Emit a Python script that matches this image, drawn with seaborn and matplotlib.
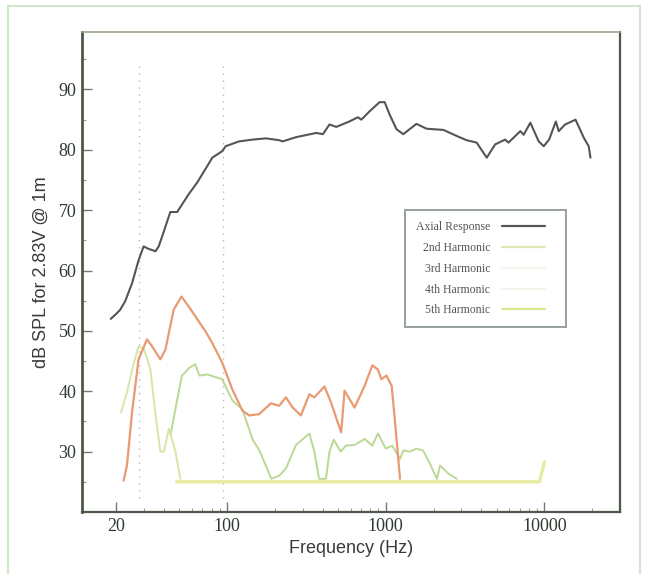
import numpy as np
import pandas as pd
import matplotlib
matplotlib.use("Agg")
import matplotlib.pyplot as plt
from matplotlib.lines import Line2D
from matplotlib.patches import Rectangle
from matplotlib.ticker import FixedLocator, LogLocator, NullFormatter
import seaborn as sns

# ---------------- data ----------------
axial_f = [18.5, 20, 21.2, 22.8, 25.2, 27.7, 29.8, 32, 35.4, 37.1, 40, 43.9, 48.5, 57.5,
           64.9, 75, 80.7, 93.4, 98, 119, 145, 176, 213, 224, 272, 365, 402, 442, 488,
           590, 668, 702, 792, 915, 985, 1060, 1170, 1290, 1560, 1810, 2310, 2800, 3230,
           3740, 4330, 4890, 5650, 5930, 7050, 7400, 8150, 9200, 9900, 10700, 11800,
           12300, 13500, 15700, 17700, 19000, 19500]
axial_db = [52.0, 52.8, 53.5, 54.9, 57.9, 61.7, 64.0, 63.6, 63.2, 64.0, 66.5, 69.7, 69.7, 72.7,
            74.6, 77.3, 78.7, 79.8, 80.6, 81.4, 81.7, 81.9, 81.6, 81.4, 82.1, 82.8, 82.6,
            84.2, 83.8, 84.7, 85.4, 85.0, 86.4, 87.9, 87.9, 85.8, 83.4, 82.6, 84.3, 83.5,
            83.3, 82.3, 81.6, 81.2, 78.7, 80.9, 81.7, 81.2, 83.1, 82.5, 84.5, 81.4, 80.6,
            81.7, 84.7, 83.1, 84.2, 85.0, 82.0, 80.6, 78.7]

h2_f = [22.3, 23.4, 25.2, 27.7, 31.3, 33.6, 38.0, 40.9, 46.1, 51.6, 57.5, 73.3, 80.7, 93.4,
        108, 125, 138, 159, 189, 213, 235, 259, 292, 330, 355, 411, 453, 499, 524, 550,
        636, 736, 823, 893, 938, 1010, 1090, 1140, 1230]
h2_db = [25.2, 27.7, 36.5, 45.3, 48.6, 47.5, 45.3, 46.9, 53.5, 55.7, 54.0, 49.9, 48.0, 44.7,
         40.3, 36.8, 36.0, 36.2, 38.0, 37.6, 39.0, 37.3, 36.0, 39.5, 39.0, 40.8, 38.1, 34.8,
         33.2, 40.1, 37.3, 40.9, 44.3, 43.6, 42.0, 42.6, 40.9, 35.4, 25.5]

h3_f = [21.5, 23.5, 25.5, 27.7, 30.0, 32.9, 35.3, 38.0, 40.0, 43.0, 47.3, 50.8]
h3_db = [36.5, 40.0, 44.0, 47.5, 47.0, 43.6, 36.5, 30.0, 30.0, 33.8, 30.0, 25.5]

h4_f = [44, 48, 52, 58, 63, 67, 75, 93, 108, 125, 145, 160, 180, 190, 213, 235, 272, 330,
        355, 380, 420, 442, 470, 520, 560, 636, 736, 823, 893, 1000, 1100, 1230, 1290,
        1420, 1560, 1720, 1900, 2100, 2200, 2500, 2800]
h4_db = [32.7, 38.0, 42.6, 43.9, 44.5, 42.6, 42.8, 42.0, 38.5, 37.0, 32.0, 30.2, 27.0, 25.5,
         26.0, 27.2, 31.1, 33.0, 30.0, 25.5, 25.5, 30.0, 32.0, 30.0, 31.0, 31.1, 32.1, 31.0,
         33.0, 30.5, 31.0, 28.8, 30.2, 30.0, 30.5, 30.2, 28.0, 25.5, 27.7, 26.3, 25.5]

h5_f = [48, 100, 1000, 5000, 9300, 10000]
h5_db = [25.0, 25.0, 25.0, 25.0, 25.0, 28.3]

legend_labels = ["Axial Response", "2nd Harmonic", "3rd Harmonic", "4th Harmonic", "5th Harmonic"]
y_ticks = [30, 40, 50, 60, 70, 80, 90]
x_ticks = [20, 100, 1000, 10000]
x_ticklabels = ["20", "100", "1000", "10000"]

# ---------------- styling ----------------
sns.set_style("ticks")
plt.rcParams["font.family"] = ["Liberation Sans", "DejaVu Sans"]

fig = plt.figure(figsize=(6.46, 5.74), dpi=100)
ax = fig.add_axes([0.127, 0.108, 0.833, 0.836])

spine_c = "#4d5a4a"
curve_colors = ["#545654", "#e89a72", "#d6e6a6", "#bcd896", "#e6eca2"]
series = [(axial_f, axial_db), (h2_f, h2_db), (h3_f, h3_db), (h4_f, h4_db), (h5_f, h5_db)]
widths = [1.5, 1.6, 1.4, 1.4, 2.4]

# faint dotted guide lines as seen in the scan
for fx in (28, 94):
    ax.axvline(fx, ymin=0.03, ymax=0.93, color="#9a9a9a", lw=1.0,
               linestyle=(0, (1, 4)), alpha=0.7, zorder=1)

order = [4, 3, 2, 1, 0]
for i in order:
    f, d = series[i]
    df = pd.DataFrame({"f": f, "db": d})
    sns.lineplot(data=df, x="f", y="db", ax=ax, color=curve_colors[i], lw=widths[i],
                 legend=False, sort=False, zorder=3 + (4 - i))

ax.set_xscale("log")
ax.set_xlim(12.2, 30000)
ax.set_ylim(20, 99.5)

ax.xaxis.set_major_locator(FixedLocator(x_ticks))
ax.set_xticklabels(x_ticklabels)
ax.xaxis.set_minor_locator(LogLocator(base=10, subs=np.arange(2, 10)))
ax.xaxis.set_minor_formatter(NullFormatter())
ax.set_yticks(y_ticks)
ax.set_yticks(np.arange(20, 100, 5), minor=True)

for lab in ax.get_xticklabels() + ax.get_yticklabels():
    lab.set_family(["Liberation Serif", "DejaVu Serif"])
    lab.set_fontsize(13)
    lab.set_color("#2f3a30")

ax.tick_params(axis="both", which="major", direction="in", length=7, width=1.0,
               color="#777777", pad=4)
ax.tick_params(axis="both", which="minor", direction="in", length=3, width=0.8,
               color="#999999")
ax.tick_params(top=False, right=False)

for s in ax.spines.values():
    s.set_visible(True)
    s.set_color(spine_c)
ax.spines["left"].set_linewidth(2.0)
ax.spines["bottom"].set_linewidth(1.6)
ax.spines["top"].set_linewidth(1.2)
ax.spines["right"].set_linewidth(1.6)
ax.spines["top"].set_color("#9aa58e")

ax.set_xlabel("Frequency (Hz)", fontsize=13, color="#3a3a3a", labelpad=4)
ax.set_ylabel("dB SPL for 2.83V @ 1m", fontsize=13, color="#3a3a3a", labelpad=6)

# legend (colours as they appear in the scan)
legend_colors = ["#555555", "#e2e8b2", "#f4f6ee", "#f4f6ee", "#dde68c"]
handles = [Line2D([0], [0], color=c, lw=1.6) for c in legend_colors]
leg = ax.legend(handles, legend_labels, loc="lower left",
                bbox_to_anchor=(0.59, 0.373, 0.32, 0.252), mode="expand",
                markerfirst=False, frameon=True, fancybox=False,
                prop={"family": ["Liberation Serif", "DejaVu Serif"], "size": 8.5},
                handlelength=3.6, labelspacing=0.75, borderpad=0.9, handletextpad=1.0)
leg.get_frame().set_edgecolor("#7d8a7d")
leg.get_frame().set_linewidth(1.4)
for t in leg.get_texts():
    t.set_color("#555555")

# faint page border from the scan
fig.add_artist(Rectangle((0.012, -0.01), 0.978, 1.0, transform=fig.transFigure,
                         fill=False, edgecolor="#cfe6c8", lw=1.5))

fig.savefig("out.png", dpi=100, facecolor="white")
